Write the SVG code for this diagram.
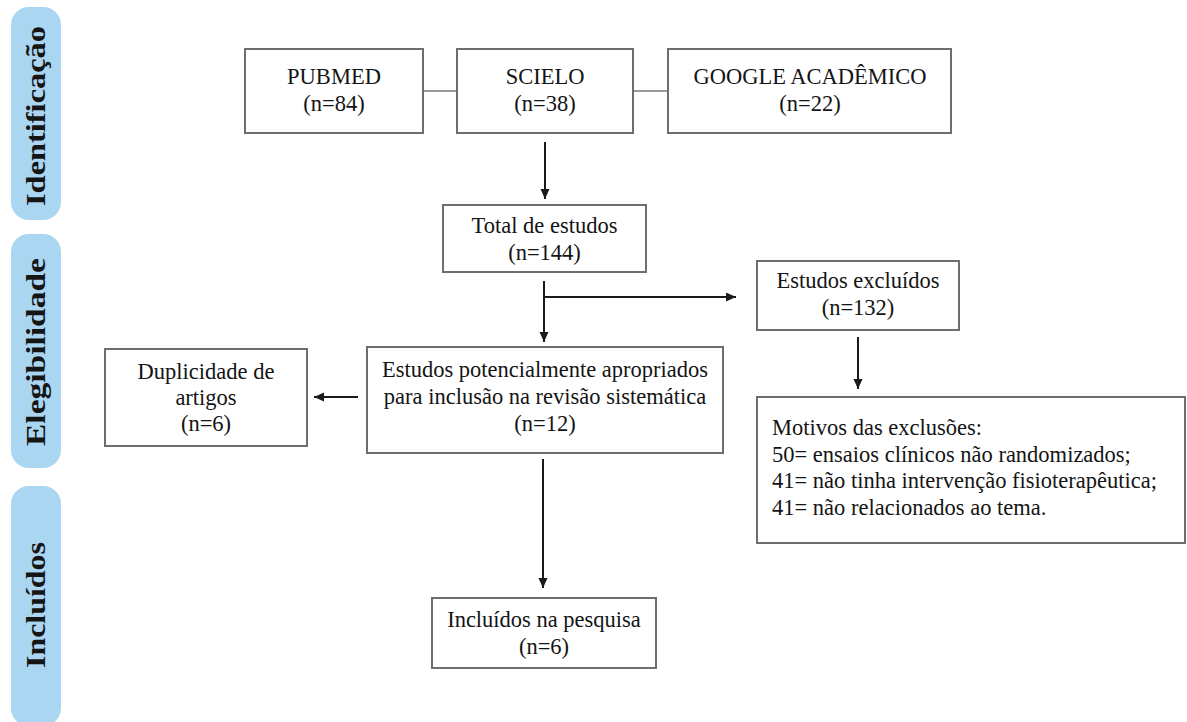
<svg xmlns="http://www.w3.org/2000/svg" width="1187" height="722" viewBox="0 0 1187 722">
<defs>
<marker id="arr" markerUnits="userSpaceOnUse" markerWidth="11" markerHeight="10" refX="10" refY="4.5" orient="auto">
<path d="M0,0 L10,4.5 L0,9 z" fill="#1a1a1a"/>
</marker>
<style>
.box{fill:#ffffff;stroke:#6e6e6e;stroke-width:2}
.t{font-family:"Liberation Serif","Times New Roman",serif;font-size:22.5px;fill:#141414;text-anchor:middle}
.tl{font-family:"Liberation Serif","Times New Roman",serif;font-size:22.5px;fill:#141414}
.pill{fill:#aad6f2}
.pt{font-family:"Liberation Serif","Times New Roman",serif;font-size:28px;font-weight:bold;fill:#151515;text-anchor:middle}
.ln{stroke:#1a1a1a;stroke-width:2;fill:none}
.gl{stroke:#7a7a7a;stroke-width:1.5;fill:none}
.ar{stroke:#1a1a1a;stroke-width:2;fill:none;marker-end:url(#arr)}
</style>
</defs>
<rect width="1187" height="722" fill="#ffffff"/>

<g id="stage-identificacao">
<rect class="pill" x="11" y="7" width="50" height="213" rx="18"/>
<text class="pt" transform="translate(45,116) rotate(-90)" textLength="180" lengthAdjust="spacingAndGlyphs">Identificação</text>
</g>
<g id="stage-elegibilidade">
<rect class="pill" x="11" y="234" width="50" height="234" rx="18"/>
<text class="pt" transform="translate(45,352) rotate(-90)" textLength="188" lengthAdjust="spacingAndGlyphs">Elegibilidade</text>
</g>
<g id="stage-incluidos">
<rect class="pill" x="11" y="486" width="50" height="240" rx="18"/>
<text class="pt" transform="translate(45,605) rotate(-90)" textLength="126" lengthAdjust="spacingAndGlyphs">Incluídos</text>
</g>

<g id="connectors">
<line class="gl" x1="423" y1="91" x2="457" y2="91"/>
<line class="gl" x1="633" y1="91" x2="668" y2="91"/>
<line class="ar" x1="545" y1="142" x2="545" y2="199"/>
<line class="ar" x1="544" y1="281" x2="544" y2="342"/>
<line class="ar" x1="544" y1="297" x2="736" y2="297"/>
<line class="ar" x1="858" y1="337" x2="858" y2="389"/>
<line class="ar" x1="358" y1="397" x2="314" y2="397"/>
<line class="ar" x1="543" y1="459" x2="543" y2="588"/>
</g>

<g id="pubmed">
<rect class="box" x="245" y="49" width="178" height="84"/>
<text class="t" x="334" y="84">PUBMED</text>
<text class="t" x="334" y="111">(n=84)</text>
</g>
<g id="scielo">
<rect class="box" x="457" y="49" width="176" height="84"/>
<text class="t" x="545" y="84">SCIELO</text>
<text class="t" x="545" y="111">(n=38)</text>
</g>
<g id="google">
<rect class="box" x="668" y="49" width="283" height="84"/>
<text class="t" x="810" y="84">GOOGLE ACADÊMICO</text>
<text class="t" x="810" y="111">(n=22)</text>
</g>
<g id="total">
<rect class="box" x="443" y="205" width="203" height="67"/>
<text class="t" x="544.5" y="233">Total de estudos</text>
<text class="t" x="544.5" y="260">(n=144)</text>
</g>
<g id="excluidos">
<rect class="box" x="757" y="261" width="202" height="69"/>
<text class="t" x="858" y="288">Estudos excluídos</text>
<text class="t" x="858" y="315">(n=132)</text>
</g>
<g id="motivos">
<rect class="box" x="757" y="397" width="428" height="146"/>
<text class="tl" x="772" y="435">Motivos das exclusões:</text>
<text class="tl" x="772" y="462">50= ensaios clínicos não randomizados;</text>
<text class="tl" x="772" y="488">41= não tinha intervenção fisioterapêutica;</text>
<text class="tl" x="772" y="515">41= não relacionados ao tema.</text>
</g>
<g id="potenciais">
<rect class="box" x="367" y="347" width="356" height="106"/>
<text class="t" x="545" y="377">Estudos potencialmente apropriados</text>
<text class="t" x="545" y="404">para inclusão na revisão sistemática</text>
<text class="t" x="545" y="431">(n=12)</text>
</g>
<g id="duplicidade">
<rect class="box" x="105" y="349" width="202" height="97"/>
<text class="t" x="206" y="379">Duplicidade de</text>
<text class="t" x="206" y="405">artigos</text>
<text class="t" x="206" y="431">(n=6)</text>
</g>
<g id="incluidos">
<rect class="box" x="432" y="598" width="224" height="70"/>
<text class="t" x="544" y="627">Incluídos na pesquisa</text>
<text class="t" x="544" y="654">(n=6)</text>
</g>
</svg>
